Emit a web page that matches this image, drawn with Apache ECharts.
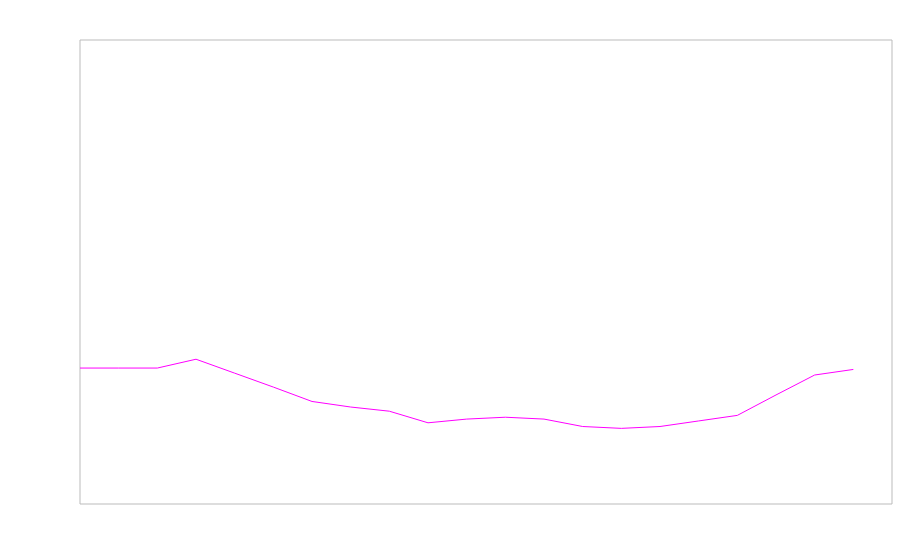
<!DOCTYPE html>
<html>
<head>
<meta charset="utf-8">
<script src="https://cdn.jsdelivr.net/npm/echarts@6/dist/echarts.min.js"></script>
<style>html,body{margin:0;padding:0;background:#fff;}#c{width:900px;height:560px;}</style>
</head>
<body>
<div id="c"></div>
<script>
var categories = ['1','2','3','4','5','6','7','8','9','10','11','12','13','14','15','16','17','18','19','20','21','22'];
var values = [29.3, 29.3, 29.3, 31.2, 28.2, 25.2, 22.1, 20.9, 20.0, 17.5, 18.3, 18.7, 18.3, 16.7, 16.3, 16.7, 17.9, 19.1, 23.5, 27.8, 29.0];
var yMin = 0, yMax = 100;

var chart = echarts.init(document.getElementById('c'), null, {renderer: 'canvas'});
chart.setOption({
  animation: false,
  backgroundColor: '#fff',
  grid: {left: 80, top: 40, right: 8, bottom: 56, show: true, borderColor: '#bbbbbb', borderWidth: 1, containLabel: false},
  xAxis: {
    type: 'category', data: categories, boundaryGap: false,
    axisLine: {show: false}, axisTick: {show: false}, axisLabel: {show: false}, splitLine: {show: false}
  },
  yAxis: {
    type: 'value', min: yMin, max: yMax,
    axisLine: {show: false}, axisTick: {show: false}, axisLabel: {show: false}, splitLine: {show: false}
  },
  series: [{
    type: 'line', data: values, showSymbol: false, symbol: 'none',
    lineStyle: {color: '#ff00ff', width: 1}, itemStyle: {color: '#ff00ff'}
  }]
});
</script>
</body>
</html>
